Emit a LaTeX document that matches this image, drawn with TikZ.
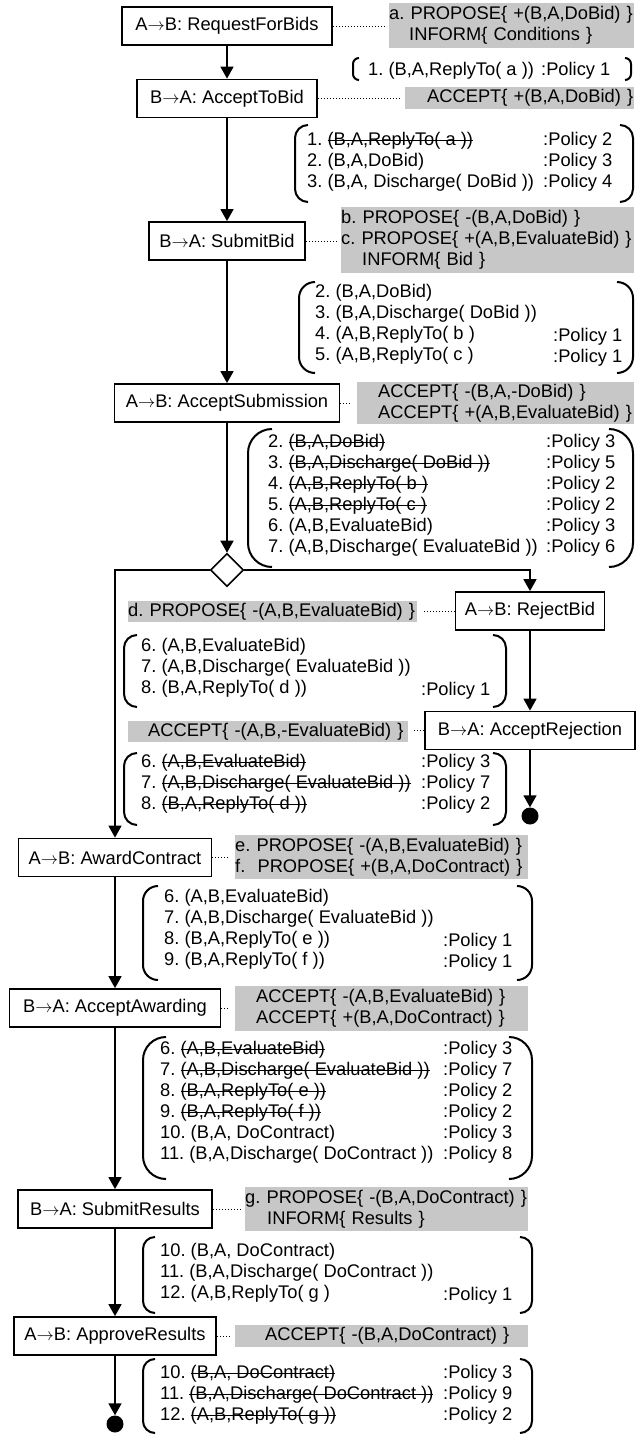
\documentclass[tikz,border=0pt]{standalone}
\usepackage{fontspec}
\setmainfont{Liberation Sans}
\usetikzlibrary{arrows.meta,shapes.geometric}
\frenchspacing

\newcommand{\dfont}{\fontsize{18.3}{21}\selectfont}
\newcommand{\sendto}{\ensuremath{\rightarrow}}
\newsavebox{\strkbox}
\newcommand{\strk}[1]{\sbox{\strkbox}{#1}\rlap{\rule[5pt]{\wd\strkbox}{1.4pt}}\usebox{\strkbox}}
% left x, right x, top y, bottom y, hook
\newcommand{\listbrk}[5]{%
  \draw[brk, rounded corners=#5pt] (#1+#5,#3) -- (#1,#3) -- (#1,#4) -- (#1+#5,#4);
  \draw[brk, rounded corners=#5pt] (#2-#5,#3) -- (#2,#3) -- (#2,#4) -- (#2-#5,#4);}

\begin{document}
\begin{tikzpicture}[x=1pt, y=-1pt,
    stepbox/.style={draw, line width=1.8pt, minimum height=38pt, inner sep=0pt, font=\dfont},
    gbox/.style={fill=black!22, anchor=north west, inner sep=0pt, align=left, font=\dfont},
    items/.style={anchor=north west, inner sep=0pt, align=left, font=\dfont, execute at begin node=\strut},
    choice/.style={diamond, draw, line width=1.6pt, inner sep=0pt, minimum width=33pt, minimum height=33pt},
    stopdot/.style={circle, fill, inner sep=0pt, minimum size=17pt},
    arr/.style={line width=1.6pt, -{Triangle[length=12pt,width=13pt]}},
    dotline/.style={line width=1pt, dash pattern=on 1pt off 2pt, shorten >=5pt},
    brk/.style={line width=2pt}
]
\useasboundingbox (0,0) rectangle (637,1435);

% main flow
\node[stepbox, minimum width=210pt] (req) at (227,26) {A\sendto B: RequestForBids};
\node[stepbox, minimum width=180pt] (acc) at (227,98.5) {B\sendto A: AcceptToBid};
\node[stepbox, minimum width=156pt] (sub) at (227,241) {B\sendto A: SubmitBid};
\node[stepbox, minimum width=225pt] (accsub) at (227,403) {A\sendto B: AcceptSubmission};
\node[choice] (dec) at (227,570) {};
\node[stepbox, minimum width=149pt] (rej) at (530,611) {A\sendto B: RejectBid};
\node[stepbox, minimum width=210pt] (accrej) at (530,730.5) {B\sendto A: AcceptRejection};
\node[stopdot] (stopA) at (530,816) {};
\node[stepbox, minimum width=193pt] (award) at (115,857.5) {A\sendto B: AwardContract};
\node[stepbox, minimum width=211pt] (accaw) at (115,1008) {B\sendto A: AcceptAwarding};
\node[stepbox, minimum width=194pt] (subres) at (115,1209) {B\sendto A: SubmitResults};
\node[stepbox, minimum width=202pt] (appr) at (115,1336) {A\sendto B: ApproveResults};
\node[stopdot] (stopB) at (115,1424) {};

\draw[arr] (req) -- (acc);
\draw[arr] (acc) -- (sub);
\draw[arr] (sub) -- (accsub);
\draw[arr] (accsub) -- (dec);
\draw[arr] (dec.west) -| (award.north);
\draw[arr] (dec.east) -| (rej.north);
\draw[arr] (rej) -- (accrej);
\draw[arr] (accrej) -- (stopA);
\draw[arr] (award) -- (accaw);
\draw[arr] (accaw) -- (subres);
\draw[arr] (subres) -- (appr);
\draw[arr] (appr) -- (stopB);

% messages
\node[gbox, text width=245pt, minimum height=45pt] (pa) at (389,3) {a. PROPOSE\{ +(B,A,DoBid) \}\\\hspace*{20pt}INFORM\{ Conditions \}};
\node[gbox, text width=229pt, minimum height=22pt] (pacc) at (405,87) {\hspace*{22pt}ACCEPT\{ +(B,A,DoBid) \}};
\node[gbox, text width=293pt, minimum height=66pt] (pbc) at (341,207) {b. PROPOSE\{ -(B,A,DoBid) \}\\c. PROPOSE\{ +(A,B,EvaluateBid) \}\\\hspace*{21pt}INFORM\{ Bid \}};
\node[gbox, text width=277pt, minimum height=42pt] (paccsub) at (357,382) {\hspace*{21pt}ACCEPT\{ -(B,A,-DoBid) \}\\\hspace*{21pt}ACCEPT\{ +(A,B,EvaluateBid) \}};
\node[gbox, text width=289pt, minimum height=21pt] (pd) at (128,601) {d. PROPOSE\{ -(A,B,EvaluateBid) \}};
\node[gbox, text width=280pt, minimum height=21pt] (paccrej) at (128,721) {\hspace*{20pt}ACCEPT\{ -(A,B,-EvaluateBid) \}};
\node[gbox, text width=293pt, minimum height=44pt] (pef) at (235,835) {e. PROPOSE\{ -(A,B,EvaluateBid) \}\\f.~~PROPOSE\{ +(B,A,DoContract) \}};
\node[gbox, text width=293pt, minimum height=45pt] (paccaw) at (235,986) {\hspace*{21pt}ACCEPT\{ -(A,B,EvaluateBid) \}\\\hspace*{21pt}ACCEPT\{ +(B,A,DoContract) \}};
\node[gbox, text width=283pt, minimum height=44pt] (pg) at (245,1187) {g. PROPOSE\{ -(B,A,DoContract) \}\\\hspace*{22pt}INFORM\{ Results \}};
\node[gbox, text width=293pt, minimum height=22pt] (pappr) at (235,1325) {\hspace*{30pt}ACCEPT\{ -(B,A,DoContract) \}};

\draw[dotline] (req.east) -- (req.east -| pa.west);
\draw[dotline] (acc.east) -- (acc.east -| pacc.west);
\draw[dotline] (sub.east) -- (sub.east -| pbc.west);
\draw[dotline] (accsub.east) -- (accsub.east -| paccsub.west);
\draw[dotline] (rej.west) -- (rej.west -| pd.east);
\draw[dotline] (accrej.west) -- (accrej.west -| paccrej.east);
\draw[dotline] (award.east) -- (award.east -| pef.west);
\draw[dotline] (accaw.east) -- (accaw.east -| paccaw.west);
\draw[dotline] (subres.east) -- (subres.east -| pg.west);
\draw[dotline] (appr.east) -- (appr.east -| pappr.west);

% commitment lists
\node[items] (l1) at (368,60.5) {1. (B,A,ReplyTo( a ))};
\node[items] (l1p) at (541,60.5) {:Policy 1};
\listbrk{353}{631}{58}{80}{6}

\node[items] (l2) at (307,132.5) {1. \strk{(B,A,ReplyTo( a ))}\\2. (B,A,DoBid)\\3. (B,A, Discharge( DoBid ))};
\node[items] (l2p) at (543,132.5) {:Policy 2\\:Policy 3\\:Policy 4};
\listbrk{295}{633}{125}{202}{13}

\node[items] (l3) at (315,284.5) {2. (B,A,DoBid)\\3. (B,A,Discharge( DoBid ))\\4. (A,B,ReplyTo( b )\\5. (A,B,ReplyTo( c )};
\node[items] (l3p) at (553,284.5) {\strut\\\strut\\:Policy 1\\:Policy 1};
\listbrk{299}{633}{282}{373}{16}

\node[items] (l4) at (268,434.5) {2. \strk{(B,A,DoBid)}\\3. \strk{(B,A,Discharge( DoBid ))}\\4. \strk{(A,B,ReplyTo( b )}\\5. \strk{(A,B,ReplyTo( c )}\\6. (A,B,EvaluateBid)\\7. (A,B,Discharge( EvaluateBid ))};
\node[items] (l4p) at (546,434.5) {:Policy 3\\:Policy 5\\:Policy 2\\:Policy 2\\:Policy 3\\:Policy 6};
\listbrk{248}{633}{429}{567}{24}

\node[items] (l5) at (141,638.5) {6. (A,B,EvaluateBid)\\7. (A,B,Discharge( EvaluateBid ))\\8. (B,A,ReplyTo( d ))};
\node[items] (l5p) at (421,638.5) {\strut\\\strut\\:Policy 1};
\listbrk{124}{506}{635}{707}{13}

\node[items] (l6) at (141,754.5) {6. \strk{(A,B,EvaluateBid)}\\7. \strk{(A,B,Discharge( EvaluateBid ))}\\8. \strk{(B,A,ReplyTo( d ))}};
\node[items] (l6p) at (421,754.5) {:Policy 3\\:Policy 7\\:Policy 2};
\listbrk{124}{506}{753}{825}{13}

\node[items] (l7) at (164,889.5) {6. (A,B,EvaluateBid)\\7. (A,B,Discharge( EvaluateBid ))\\8. (B,A,ReplyTo( e ))\\9. (B,A,ReplyTo( f ))};
\node[items] (l7p) at (443,889.5) {\strut\\\strut\\:Policy 1\\:Policy 1};
\listbrk{143}{532}{886}{980}{15}

\node[items] (l8) at (160,1041.5) {6. \strk{(A,B,EvaluateBid)}\\7. \strk{(A,B,Discharge( EvaluateBid ))}\\8. \strk{(B,A,ReplyTo( e ))}\\9. \strk{(B,A,ReplyTo( f ))}\\10. (B,A, DoContract)\\11. (B,A,Discharge( DoContract ))};
\node[items] (l8p) at (443,1041.5) {:Policy 3\\:Policy 7\\:Policy 2\\:Policy 2\\:Policy 3\\:Policy 8};
\listbrk{143}{532}{1037}{1179}{23}

\node[items] (l9) at (160,1243.5) {10. (B,A, DoContract)\\11. (B,A,Discharge( DoContract ))\\12. (A,B,ReplyTo( g )};
\node[items] (l9p) at (443,1243.5) {\strut\\\strut\\:Policy 1};
\listbrk{143}{532}{1237}{1313}{12}

\node[items] (l10) at (160,1365.5) {10. \strk{(B,A, DoContract)}\\11. \strk{(B,A,Discharge( DoContract ))}\\12. \strk{(A,B,ReplyTo( g ))}};
\node[items] (l10p) at (443,1365.5) {:Policy 3\\:Policy 9\\:Policy 2};
\listbrk{143}{532}{1359}{1433}{12}
\end{tikzpicture}
\end{document}
